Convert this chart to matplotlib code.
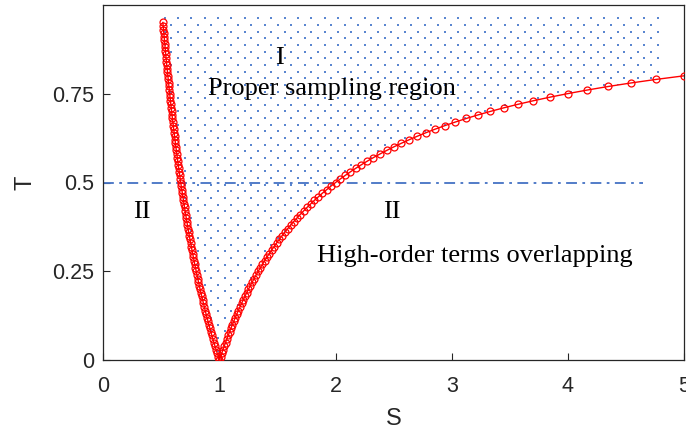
import numpy as np
import matplotlib
matplotlib.use("Agg")
import matplotlib.pyplot as plt

# ---- data ----
# left branch (S < 1), from top down to the V at S = 1
T_left = [0.95, 0.94, 0.93, 0.92, 0.91, 0.90, 0.89, 0.88, 0.87, 0.86, 0.85, 0.84,
          0.83, 0.82, 0.81, 0.80, 0.79, 0.78, 0.77, 0.76, 0.75, 0.74, 0.73, 0.72,
          0.71, 0.70, 0.69, 0.68, 0.67, 0.66, 0.65, 0.64, 0.63, 0.62, 0.61, 0.60,
          0.59, 0.58, 0.57, 0.56, 0.55, 0.54, 0.53, 0.52, 0.51, 0.50, 0.49, 0.48,
          0.47, 0.46, 0.45, 0.44, 0.43, 0.42, 0.41, 0.40, 0.39, 0.38, 0.37, 0.36,
          0.35, 0.34, 0.33, 0.32, 0.31, 0.30, 0.29, 0.28, 0.27, 0.26, 0.25, 0.24,
          0.23, 0.22, 0.21, 0.20, 0.19, 0.18, 0.17, 0.16, 0.15, 0.14, 0.13, 0.12,
          0.11, 0.10, 0.09, 0.08, 0.07, 0.06, 0.05, 0.04, 0.03, 0.02, 0.01, 0.00]
S_left = [0.5128, 0.5155, 0.5181, 0.5208, 0.5236, 0.5263, 0.5291, 0.5319, 0.5348,
          0.5376, 0.5405, 0.5435, 0.5464, 0.5495, 0.5525, 0.5556, 0.5587, 0.5618,
          0.5650, 0.5682, 0.5714, 0.5747, 0.5780, 0.5814, 0.5848, 0.5882, 0.5917,
          0.5952, 0.5988, 0.6024, 0.6061, 0.6098, 0.6135, 0.6173, 0.6211, 0.6250,
          0.6289, 0.6329, 0.6369, 0.6410, 0.6452, 0.6494, 0.6536, 0.6579, 0.6623,
          0.6667, 0.6711, 0.6757, 0.6803, 0.6849, 0.6897, 0.6944, 0.6993, 0.7042,
          0.7092, 0.7143, 0.7194, 0.7246, 0.7299, 0.7353, 0.7407, 0.7463, 0.7519,
          0.7576, 0.7634, 0.7692, 0.7752, 0.7813, 0.7874, 0.7937, 0.8000, 0.8065,
          0.8130, 0.8197, 0.8264, 0.8333, 0.8403, 0.8475, 0.8547, 0.8621, 0.8696,
          0.8772, 0.8850, 0.8929, 0.9009, 0.9091, 0.9174, 0.9259, 0.9346, 0.9434,
          0.9524, 0.9615, 0.9709, 0.9804, 0.9901, 1.0000]
# right branch (S > 1), from the V up to S = 5
T_right = [0.00, 0.01, 0.02, 0.03, 0.04, 0.05, 0.06, 0.07, 0.08, 0.09, 0.10, 0.11,
           0.12, 0.13, 0.14, 0.15, 0.16, 0.17, 0.18, 0.19, 0.20, 0.21, 0.22, 0.23,
           0.24, 0.25, 0.26, 0.27, 0.28, 0.29, 0.30, 0.31, 0.32, 0.33, 0.34, 0.35,
           0.36, 0.37, 0.38, 0.39, 0.40, 0.41, 0.42, 0.43, 0.44, 0.45, 0.46, 0.47,
           0.48, 0.49, 0.50, 0.51, 0.52, 0.53, 0.54, 0.55, 0.56, 0.57, 0.58, 0.59,
           0.60, 0.61, 0.62, 0.63, 0.64, 0.65, 0.66, 0.67, 0.68, 0.69, 0.70, 0.71,
           0.72, 0.73, 0.74, 0.75, 0.76, 0.77, 0.78, 0.79, 0.80]
S_right = [1.0000, 1.0101, 1.0204, 1.0309, 1.0417, 1.0526, 1.0638, 1.0753, 1.0870,
           1.0989, 1.1111, 1.1236, 1.1364, 1.1494, 1.1628, 1.1765, 1.1905, 1.2048,
           1.2195, 1.2346, 1.2500, 1.2658, 1.2821, 1.2987, 1.3158, 1.3333, 1.3514,
           1.3699, 1.3889, 1.4085, 1.4286, 1.4493, 1.4706, 1.4925, 1.5152, 1.5385,
           1.5625, 1.5873, 1.6129, 1.6393, 1.6667, 1.6949, 1.7241, 1.7544, 1.7857,
           1.8182, 1.8519, 1.8868, 1.9231, 1.9608, 2.0000, 2.0408, 2.0833, 2.1277,
           2.1739, 2.2222, 2.2727, 2.3256, 2.3810, 2.4390, 2.5000, 2.5641, 2.6316,
           2.7027, 2.7778, 2.8571, 2.9412, 3.0303, 3.1250, 3.2258, 3.3333, 3.4483,
           3.5714, 3.7037, 3.8462, 4.0000, 4.1667, 4.3478, 4.5455, 4.7619, 5.0000]

threshold_T = 0.5
threshold_S_range = [0.0, 4.65]
region_top_T = 0.962
region_right_S = 4.82

x_ticks = [0, 1, 2, 3, 4, 5]
x_ticklabels = ["0", "1", "2", "3", "4", "5"]
y_ticks = [0, 0.25, 0.5, 0.75]
y_ticklabels = ["0", "0.25", "0.5", "0.75"]

# ---- figure ----
W, H = 686, 432
fig = plt.figure(figsize=(W / 100, H / 100), dpi=100)
ax = fig.add_axes([103.3 / W, 1 - 360.3 / H, (684 - 103.3) / W, (360.3 - 4.7) / H])
ax.set_xlim(0, 5)
ax.set_ylim(0, 1)

S_all = np.array(S_left + S_right[1:])
T_all = np.array(T_left + T_right[1:])

# dotted "proper sampling" region
poly = ax.fill_between(S_all, T_all, region_top_T + 0.004, facecolor="none",
                       edgecolor="none", linewidth=0)
dS = 13.33 / 116.2
dT = 6.67 / 356.0
xs, ys = [], []
for r in range(0, 60):
    t = region_top_T - r * dT
    if t < 0:
        break
    start = 0.30 + (dS / 2 if r % 2 else 0.0)
    cols = np.arange(start, region_right_S, dS)
    xs.extend(cols)
    ys.extend([t] * len(cols))
dots = ax.scatter(xs, ys, s=1.8, marker="s", color="#5A86D0", linewidths=0, zorder=1)
dots.set_clip_path(poly.get_paths()[0], ax.transData)

# threshold dash-dot line
ax.plot(threshold_S_range, [threshold_T, threshold_T], color="#4472C4", lw=1.3,
        dashes=(6, 3, 1.5, 3), zorder=2)

# the curve
ax.plot(S_all, T_all, color="#FF0000", lw=1.0, marker="o", markersize=5,
        markerfacecolor="none", markeredgecolor="#FF0000", markeredgewidth=0.9,
        zorder=3)

serif = ["Liberation Serif", "DejaVu Serif"]
fs = 19
ax.text(1.52, 0.834, "I", fontsize=fs, family=serif, ha="center", va="baseline", zorder=4)
ax.text(1.966, 0.745, "Proper sampling region", fontsize=fs, family=serif,
        ha="center", va="baseline", zorder=4)
ax.text(0.33, 0.399, "II", fontsize=fs, family=serif, ha="center", va="baseline", zorder=4)
ax.text(2.482, 0.399, "II", fontsize=fs, family=serif, ha="center", va="baseline", zorder=4)
ax.text(3.199, 0.277, "High-order terms overlapping", fontsize=fs, family=serif,
        ha="center", va="baseline", zorder=4)

sans = ["Liberation Sans", "DejaVu Sans"]
ax.set_xticks(x_ticks)
ax.set_xticklabels(x_ticklabels, family=sans, fontsize=15.5)
ax.set_yticks(y_ticks)
ax.set_yticklabels(y_ticklabels, family=sans, fontsize=15.5)
ax.tick_params(axis="both", direction="in", length=5, width=0.8, colors="#262626",
               top=False, right=False)
ax.tick_params(axis="x", pad=11)
ax.tick_params(axis="y", pad=6.5)
ax.set_xlabel("S", family=sans, fontsize=17, color="#262626", labelpad=8)
ax.set_ylabel("T", family=sans, fontsize=17, color="#262626", labelpad=11)
for sp in ax.spines.values():
    sp.set_color("#262626")
    sp.set_linewidth(0.9)

fig.savefig("out.png", dpi=100, facecolor="white")
